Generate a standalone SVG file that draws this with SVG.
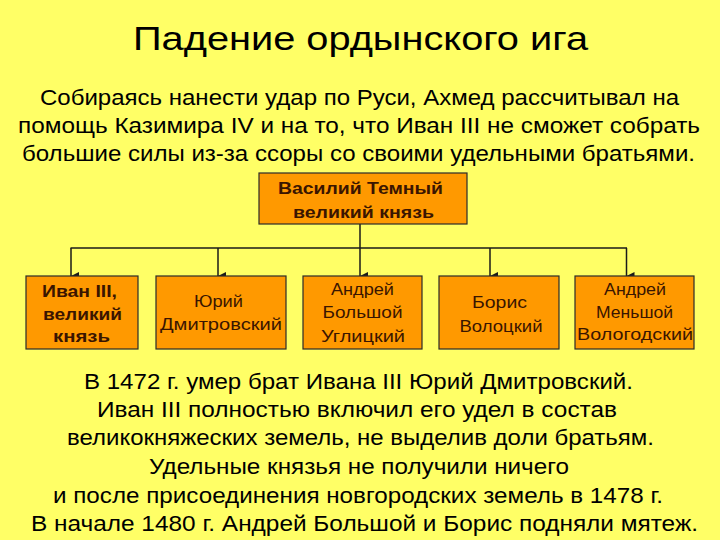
<svg xmlns="http://www.w3.org/2000/svg" width="720" height="540" viewBox="0 0 720 540">
<style>
  .t { font-family: "Liberation Sans", Arial, sans-serif; fill: #000; text-anchor: middle; }
  .title { font-size: 34px; }
  .p { font-size: 22px; }
  .box { fill: #FF9900; stroke: #2a2a2a; stroke-width: 1.2; }
  .bt { font-family: "Liberation Sans", Arial, sans-serif; fill: #3a1500; text-anchor: middle; font-size: 17px; }
  .b { font-weight: bold; }
  .conn { stroke: #1a1a1a; stroke-width: 1.5; fill: none; }
</style>
<defs>
  <marker id="arr" markerUnits="userSpaceOnUse" markerWidth="10" markerHeight="10" refX="5" refY="8" orient="auto-start-reverse" viewBox="0 0 10 10">
    <path d="M1,0 L9,0 L5,8 Z" fill="#1a1a1a"/>
  </marker>
</defs>
<rect x="0" y="0" width="720" height="540" fill="#FFFF66"/>

<text class="t title" x="360.5" y="50" textLength="455" lengthAdjust="spacingAndGlyphs">Падение ордынского ига</text>

<g id="intro">
  <text class="t p" x="359.5" y="104.5" textLength="639" lengthAdjust="spacingAndGlyphs">Собираясь нанести удар по Руси, Ахмед рассчитывал на</text>
  <text class="t p" x="359" y="133" textLength="682" lengthAdjust="spacingAndGlyphs">помощь Казимира IV и на то, что Иван III  не сможет собрать</text>
  <text class="t p" x="358.5" y="161" textLength="673" lengthAdjust="spacingAndGlyphs">большие силы из-за ссоры со своими удельными братьями.</text>
</g>

<g id="connectors">
  <line class="conn" x1="360" y1="224" x2="360" y2="248"/>
  <line class="conn" x1="70.5" y1="248" x2="627" y2="248"/>
  <line class="conn" x1="71" y1="248" x2="71" y2="276" marker-end="url(#arr)"/>
  <line class="conn" x1="218" y1="248" x2="218" y2="276" marker-end="url(#arr)"/>
  <line class="conn" x1="360" y1="248" x2="360" y2="276" marker-end="url(#arr)"/>
  <line class="conn" x1="490" y1="248" x2="490" y2="276" marker-end="url(#arr)"/>
  <line class="conn" x1="626.5" y1="248" x2="626.5" y2="276" marker-end="url(#arr)"/>
</g>

<g id="vasily">
  <rect class="box" x="259" y="173" width="208" height="51"/>
  <text class="bt b" x="360.5" y="194" textLength="165" lengthAdjust="spacingAndGlyphs">Василий Темный</text>
  <text class="bt b" x="363.5" y="218" textLength="141" lengthAdjust="spacingAndGlyphs">великий князь</text>
</g>

<g id="ivan">
  <rect class="box" x="26" y="276" width="112" height="73"/>
  <text class="bt b" x="79.5" y="297" textLength="75" lengthAdjust="spacingAndGlyphs">Иван III,</text>
  <text class="bt b" x="82.5" y="320" textLength="79" lengthAdjust="spacingAndGlyphs">великий</text>
  <text class="bt b" x="81.5" y="342" textLength="57" lengthAdjust="spacingAndGlyphs">князь</text>
</g>

<g id="yuri">
  <rect class="box" x="156" y="276" width="130" height="73"/>
  <text class="bt" x="218.5" y="307" textLength="49" lengthAdjust="spacingAndGlyphs">Юрий</text>
  <text class="bt" x="221" y="330" textLength="122" lengthAdjust="spacingAndGlyphs">Дмитровский</text>
</g>

<g id="andrei-b">
  <rect class="box" x="303" y="276" width="119" height="73"/>
  <text class="bt" x="362.5" y="295" textLength="63" lengthAdjust="spacingAndGlyphs">Андрей</text>
  <text class="bt" x="362.5" y="318" textLength="80" lengthAdjust="spacingAndGlyphs">Большой</text>
  <text class="bt" x="363" y="342" textLength="84" lengthAdjust="spacingAndGlyphs">Углицкий</text>
</g>

<g id="boris">
  <rect class="box" x="439" y="276" width="120" height="73"/>
  <text class="bt" x="499.5" y="308" textLength="55" lengthAdjust="spacingAndGlyphs">Борис</text>
  <text class="bt" x="501" y="332" textLength="83" lengthAdjust="spacingAndGlyphs">Волоцкий</text>
</g>

<g id="andrei-m">
  <rect class="box" x="575" y="276" width="119" height="73"/>
  <text class="bt" x="635" y="295" textLength="62" lengthAdjust="spacingAndGlyphs">Андрей</text>
  <text class="bt" x="634.5" y="318" textLength="77" lengthAdjust="spacingAndGlyphs">Меньшой</text>
  <text class="bt" x="635" y="340" textLength="116" lengthAdjust="spacingAndGlyphs">Вологодский</text>
</g>

<g id="outro">
  <text class="t p" x="358.5" y="388.5" textLength="549" lengthAdjust="spacingAndGlyphs">В 1472 г. умер брат Ивана III Юрий Дмитровский.</text>
  <text class="t p" x="357" y="416.5" textLength="520" lengthAdjust="spacingAndGlyphs">Иван III полностью включил его удел в состав</text>
  <text class="t p" x="360.5" y="445" textLength="587" lengthAdjust="spacingAndGlyphs">великокняжеских земель, не выделив доли братьям.</text>
  <text class="t p" x="359" y="473.5" textLength="420" lengthAdjust="spacingAndGlyphs">Удельные князья не получили ничего</text>
  <text class="t p" x="358" y="502.5" textLength="610" lengthAdjust="spacingAndGlyphs">и после присоединения новгородских земель в 1478 г.</text>
  <text class="t p" x="364.5" y="530.5" textLength="667" lengthAdjust="spacingAndGlyphs">В начале 1480 г. Андрей Большой и Борис подняли мятеж.</text>
</g>
</svg>
